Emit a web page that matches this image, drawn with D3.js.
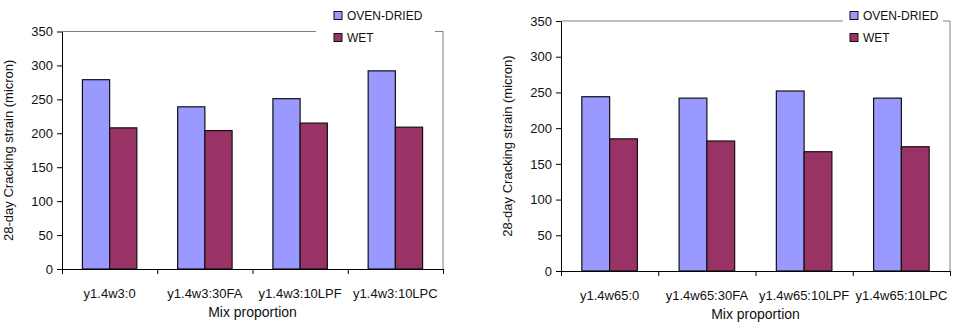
<!DOCTYPE html>
<html>
<head>
<meta charset="utf-8">
<script src="https://cdn.jsdelivr.net/npm/d3@7"></script>
<style>
  html, body { margin: 0; padding: 0; background: #fff; }
  svg { display: block; font-family: "Liberation Sans", Arial, sans-serif; }
</style>
</head>
<body>
<svg id="chart" width="956" height="332"></svg>
<script>
// Series and categories
const seriesNames = ["OVEN-DRIED", "WET"];
const seriesColors = ["#9999FF", "#993366"];
const yTicks = [0, 50, 100, 150, 200, 250, 300, 350];
const yTitle = "28-day Cracking strain (micron)";
const xTitle = "Mix proportion";

// Left panel: w/c 0.3 mixes
const mixesW3 = ["y1.4w3:0", "y1.4w3:30FA", "y1.4w3:10LPF", "y1.4w3:10LPC"];
const ovenW3 = [279, 239, 251, 292];
const wetW3 = [208, 204, 215, 209];

// Right panel: w/c 0.65 mixes
const mixesW65 = ["y1.4w65:0", "y1.4w65:30FA", "y1.4w65:10LPF", "y1.4w65:10LPC"];
const ovenW65 = [244, 242, 252, 242];
const wetW65 = [185, 182, 167, 174];

const svg = d3.select("#chart");

function drawPanel(cfg) {
  const { left, right, top, bottom, cats, oven, wet, legendX, gap } = cfg;
  const g = svg.append("g");

  const y = d3.scaleLinear().domain([0, 350]).range([bottom, top]);
  const x0 = d3.scaleBand().domain(cats).range([left, right]).padding(0);
  const x1 = d3.scaleBand().domain(seriesNames).range([0, x0.bandwidth()])
    .paddingInner(0).paddingOuter(0.75);

  // plot frame (top and right edges)
  g.append("path")
    .attr("d", `M${left},${top}H${right}V${bottom}`)
    .attr("fill", "none").attr("stroke", "#808080").attr("stroke-width", 1);

  // bars
  const rows = cats.map((c, i) => ({ cat: c, values: [oven[i], wet[i]] }));
  const grp = g.selectAll("g.cat").data(rows).join("g")
    .attr("transform", d => `translate(${x0(d.cat)},0)`);
  grp.selectAll("rect").data(d => d.values.map((v, k) => ({ s: seriesNames[k], v, k })))
    .join("rect")
    .attr("x", d => x1(d.s))
    .attr("width", x1.bandwidth())
    .attr("y", d => y(d.v))
    .attr("height", d => y(0) - y(d.v))
    .attr("fill", d => seriesColors[d.k])
    .attr("stroke", "#111").attr("stroke-width", 1.2);

  // y axis
  const ya = g.append("g").attr("transform", `translate(${left},0)`)
    .call(d3.axisLeft(y).tickValues(yTicks).tickSize(5).tickPadding(4).tickSizeOuter(0));
  ya.select(".domain").attr("stroke", "#000");
  ya.selectAll("text").attr("font-size", 13).attr("fill", "#111")
    .attr("font-family", "Liberation Sans, Arial, sans-serif");

  // x axis: tick marks at category boundaries
  const xb = d3.scaleLinear().domain([0, cats.length]).range([left, right]);
  const xa = g.append("g").attr("transform", `translate(0,${bottom})`)
    .call(d3.axisBottom(xb).tickValues(d3.range(cats.length + 1)).tickSize(5)
      .tickFormat("").tickSizeOuter(0));
  xa.select(".domain").attr("stroke", "#000");

  // category labels
  const xl = g.append("g").attr("transform", `translate(0,${bottom})`)
    .call(d3.axisBottom(x0).tickSize(0).tickPadding(20));
  xl.select(".domain").remove();
  xl.selectAll("text").attr("font-size", 13).attr("fill", "#111")
    .attr("font-family", "Liberation Sans, Arial, sans-serif");

  // axis titles
  g.append("text")
    .attr("x", (left + right) / 2).attr("y", bottom + 43)
    .attr("text-anchor", "middle").attr("dominant-baseline", "central")
    .attr("font-size", 14).attr("fill", "#111").text(xTitle);
  g.append("text")
    .attr("transform", `translate(${left - 54},${(top + bottom) / 2}) rotate(-90)`)
    .attr("text-anchor", "middle").attr("dominant-baseline", "central")
    .attr("font-size", 13).attr("fill", "#111").text(yTitle);

  // legend
  g.append("rect").attr("x", gap[0]).attr("y", 2)
    .attr("width", gap[1] - gap[0]).attr("height", 46).attr("fill", "#fff");
  seriesNames.forEach((s, k) => {
    const cy = 15.5 + k * 22;
    g.append("rect").attr("x", legendX).attr("y", cy - 4).attr("width", 8).attr("height", 8)
      .attr("fill", seriesColors[k]).attr("stroke", "#111").attr("stroke-width", 1);
    g.append("text").attr("x", legendX + 13).attr("y", cy)
      .attr("dominant-baseline", "central").attr("font-size", 12).attr("fill", "#111").text(s);
  });
}

drawPanel({ left: 62, right: 443, top: 31.5, bottom: 269, cats: mixesW3,
  oven: ovenW3, wet: wetW3, legendX: 334, gap: [316, 435] });
drawPanel({ left: 561, right: 950, top: 21, bottom: 271, cats: mixesW65,
  oven: ovenW65, wet: wetW65, legendX: 850, gap: [843, 943] });
</script>
</body>
</html>
